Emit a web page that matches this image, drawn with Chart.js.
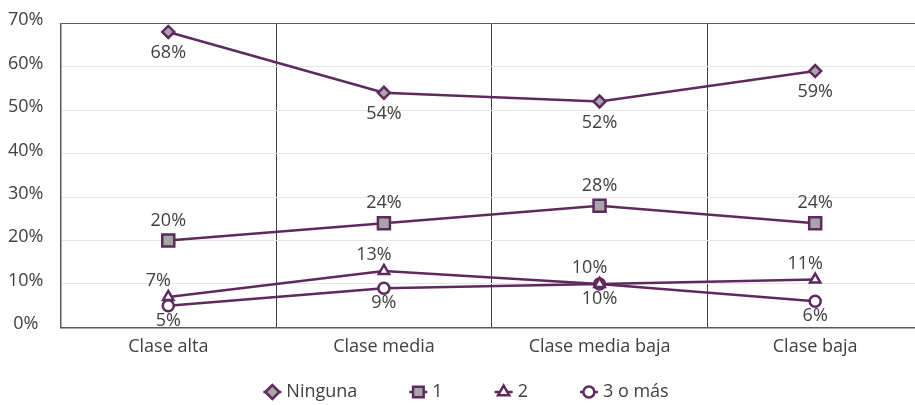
<!DOCTYPE html>
<html>
<head>
<meta charset="utf-8">
<script src="https://cdn.jsdelivr.net/npm/chart.js@4"></script>
<style>
  html, body { margin: 0; padding: 0; background: #fff; overflow: hidden; width: 915px; height: 405px; }
  canvas { display: block; }
</style>
</head>
<body>
<canvas id="chart" width="924" height="405"></canvas>
<script>
// data
const categories = ['Clase alta', 'Clase media', 'Clase media baja', 'Clase baja'];
const ninguna = [68, 54, 52, 59];
const uno = [20, 24, 28, 24];
const dos = [7, 13, 10, 11];
const tresOMas = [5, 9, 10, 6];
const yTicks = [0, 10, 20, 30, 40, 50, 60, 70];

const PURPLE = '#5e2a5e';
const GRAY = '#a6a6a6';
const TEXT = '#404040';
const FONT = "'Open Sans', sans-serif";

// label offset for each series [dx, dy]
const LABEL_OFFSETS = [[0, 21], [0, -20], [-10, -16], [0, 15]];
// legend marker radius for each series
const LEGEND_RADIUS = [7, 7.5, 6.5, 5.5];

const dataLabels = {
  id: 'dataLabels',
  afterDatasetsDraw(chart) {
    const c = chart.ctx;
    c.save();
    c.font = `18px ${FONT}`;
    c.fillStyle = TEXT;
    c.textAlign = 'center';
    c.textBaseline = 'middle';
    chart.data.datasets.forEach((ds, i) => {
      const [dx, dy] = LABEL_OFFSETS[i];
      chart.getDatasetMeta(i).data.forEach((pt, j) => {
        c.fillText(`${ds.data[j]}%`, pt.x + dx, pt.y + dy);
      });
    });
    c.restore();
  }
};

// Excel-like legend: short line + marker, wide gaps
const lineLegend = {
  id: 'lineLegend',
  afterDraw(chart) {
    const c = chart.ctx;
    const sets = chart.data.datasets;
    c.save();
    c.font = `18px ${FONT}`;
    c.textBaseline = 'middle';
    c.textAlign = 'left';
    const toText = 14, gap = 61;
    const widths = sets.map(ds => c.measureText(ds.label).width);
    let total = 7;
    widths.forEach((w, i) => { total += toText + w + (i < widths.length - 1 ? gap : 0); });
    let x = chart.width / 2 + 5 - total / 2 + 7;
    const y = 392;
    sets.forEach((ds, i) => {
      c.strokeStyle = PURPLE;
      c.lineWidth = 2.5;
      c.beginPath(); c.moveTo(x - 9, y); c.lineTo(x + 9, y); c.stroke();
      c.fillStyle = ds.pointBackgroundColor;
      Chart.helpers.drawPoint(c, { pointStyle: ds.pointStyle, radius: LEGEND_RADIUS[i], borderWidth: 2.5, rotation: 0 }, x, y);
      c.fillStyle = TEXT;
      c.fillText(ds.label, x + toText, y);
      x += toText + widths[i] + gap;
    });
    c.restore();
  }
};

function series(label, data, style, fill, radius) {
  return {
    label, data,
    borderColor: PURPLE, borderWidth: 2.5,
    pointStyle: style, pointRadius: radius, pointHoverRadius: radius,
    pointBackgroundColor: fill, pointBorderColor: PURPLE, pointBorderWidth: 2.5,
    backgroundColor: fill, tension: 0,
  };
}

new Chart(document.getElementById('chart'), {
  type: 'line',
  data: {
    labels: categories,
    datasets: [
      series('Ninguna', ninguna, 'rectRot', GRAY, 6),
      series('1', uno, 'rect', GRAY, 8.5),
      series('2', dos, 'triangle', '#ffffff', 6),
      series('3 o más', tresOMas, 'circle', '#ffffff', 5.5),
    ]
  },
  options: {
    responsive: false, animation: false,
    layout: { autoPadding: false, padding: { left: -9, top: 21, right: 1, bottom: 38 } },
    plugins: {
      legend: { display: false },
      tooltip: { enabled: false },
    },
    scales: {
      x: {
        offset: true,
        grid: { offset: true, color: '#404040', lineWidth: 1, drawTicks: false },
        border: { color: '#595959', width: 1.5 },
        ticks: { color: TEXT, font: { family: FONT, size: 18 }, padding: 9 },
      },
      y: {
        min: 0, max: 70,
        afterBuildTicks: (axis) => { axis.ticks = yTicks.map(v => ({ value: v })); },
        grid: {
          drawTicks: false,
          color: (ctx) => (ctx.tick && ctx.tick.value === 70) ? '#595959' : '#e6e6e6',
          lineWidth: 1,
        },
        border: { color: '#595959', width: 1.5 },
        ticks: {
          color: TEXT, font: { family: FONT, size: 18, lineHeight: 0.35 }, padding: 17, crossAlign: 'center',
          // empty second line lifts the label a little above its gridline
          callback: (v) => [`${v}%`, ''],
        },
      },
    },
  },
  plugins: [dataLabels, lineLegend],
});
</script>
</body>
</html>
